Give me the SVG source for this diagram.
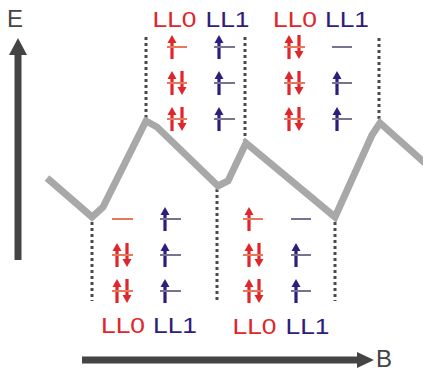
<svg xmlns="http://www.w3.org/2000/svg" xmlns:xlink="http://www.w3.org/1999/xlink" width="423" height="373" viewBox="0 0 423 373">
<style>
.ax{stroke:#444;stroke-width:7;fill:none}
.ah{fill:#444}
.dot{stroke:#4a4a4a;stroke-width:3;stroke-dasharray:3 3;fill:none}
.band{stroke:#a8a8a8;stroke-width:7;fill:none;stroke-linejoin:miter}
.lr{stroke:#e6785c;stroke-width:2}
.ln{stroke:#7a7294;stroke-width:2}
.tr{fill:#e0262a;font-family:"Liberation Sans",Arial,sans-serif;font-size:21.5px;text-anchor:middle}
.tn{fill:#2e1d7c;font-family:"Liberation Sans",Arial,sans-serif;font-size:21.5px;text-anchor:middle}
.axl{fill:#444;font-family:"Liberation Sans",Arial,sans-serif;font-size:24px}
</style>
<defs>
<path id="up" d="M0,-12 L4.5,-4 L1.6,-4 L1.6,12 L-1.6,12 L-1.6,-4 L-4.5,-4 Z"/>
<path id="dn" d="M0,12 L4.5,4 L1.6,4 L1.6,-12 L-1.6,-12 L-1.6,4 L-4.5,4 Z"/>
</defs>
<g id="axes">
<line class="ax" x1="18" y1="260" x2="18" y2="52"/>
<polygon class="ah" points="18,38 27,55 9,55"/>
<text class="axl" x="7" y="27">E</text>
<line class="ax" x1="82" y1="360" x2="359" y2="360"/>
<polygon class="ah" points="374,360 357,352 357,368"/>
<text class="axl" x="376" y="367">B</text>
</g>
<g id="connectors">
<line class="dot" x1="146" y1="37" x2="146" y2="119"/>
<line class="dot" x1="245" y1="37" x2="245" y2="141"/>
<line class="dot" x1="379" y1="38" x2="379" y2="120"/>
<line class="dot" x1="92" y1="222" x2="92" y2="301"/>
<line class="dot" x1="217" y1="189" x2="217" y2="301"/>
<line class="dot" x1="335" y1="222" x2="335" y2="301"/>
<polyline class="band" points="47,178 92,217 103,207 146,121 157,127 218,186 228,181 246,143 335,217 372,135 380,123 426,164"/>
</g>
<g id="top-left">
<text class="tr" x="174.5" y="26.5" textLength="44" lengthAdjust="spacingAndGlyphs">LL0</text>
<text class="tn" x="227.5" y="26.5" textLength="44" lengthAdjust="spacingAndGlyphs">LL1</text>
<use href="#up" x="172" y="47" fill="#e0262a"/>
<use href="#up" x="172" y="83" fill="#e0262a"/><use href="#dn" x="182" y="83" fill="#e0262a"/>
<use href="#up" x="172" y="119" fill="#e0262a"/><use href="#dn" x="182" y="119" fill="#e0262a"/>
<use href="#up" x="219" y="47" fill="#2e1d7c"/>
<use href="#up" x="219" y="83" fill="#2e1d7c"/>
<use href="#up" x="219" y="119" fill="#2e1d7c"/>
<line class="lr" x1="167" y1="47" x2="187" y2="47"/>
<line class="lr" x1="167" y1="83" x2="187" y2="83"/>
<line class="lr" x1="167" y1="119" x2="187" y2="119"/>
<line class="ln" x1="214" y1="47" x2="235" y2="47"/>
<line class="ln" x1="214" y1="83" x2="235" y2="83"/>
<line class="ln" x1="214" y1="119" x2="235" y2="119"/>
</g>
<g id="top-right">
<text class="tr" x="295" y="26.5" textLength="44" lengthAdjust="spacingAndGlyphs">LL0</text>
<text class="tn" x="347" y="26.5" textLength="44" lengthAdjust="spacingAndGlyphs">LL1</text>
<use href="#up" x="289" y="47" fill="#e0262a"/><use href="#dn" x="299" y="47" fill="#e0262a"/>
<use href="#up" x="289" y="83" fill="#e0262a"/><use href="#dn" x="299" y="83" fill="#e0262a"/>
<use href="#up" x="289" y="119" fill="#e0262a"/><use href="#dn" x="299" y="119" fill="#e0262a"/>
<use href="#up" x="337" y="83" fill="#2e1d7c"/>
<use href="#up" x="337" y="119" fill="#2e1d7c"/>
<line class="lr" x1="284" y1="47" x2="305" y2="47"/>
<line class="lr" x1="284" y1="83" x2="305" y2="83"/>
<line class="lr" x1="284" y1="119" x2="305" y2="119"/>
<line class="ln" x1="332" y1="47" x2="352" y2="47"/>
<line class="ln" x1="332" y1="83" x2="352" y2="83"/>
<line class="ln" x1="332" y1="119" x2="352" y2="119"/>
</g>
<g id="bottom-left">
<text class="tr" x="123" y="332.5" textLength="44" lengthAdjust="spacingAndGlyphs">LL0</text>
<text class="tn" x="175" y="332.5" textLength="44" lengthAdjust="spacingAndGlyphs">LL1</text>
<use href="#up" x="117" y="255" fill="#e0262a"/><use href="#dn" x="127" y="255" fill="#e0262a"/>
<use href="#up" x="117" y="291" fill="#e0262a"/><use href="#dn" x="127" y="291" fill="#e0262a"/>
<use href="#up" x="165" y="219" fill="#2e1d7c"/>
<use href="#up" x="165" y="255" fill="#2e1d7c"/>
<use href="#up" x="165" y="291" fill="#2e1d7c"/>
<line class="lr" x1="112" y1="219" x2="133" y2="219"/>
<line class="lr" x1="112" y1="255" x2="133" y2="255"/>
<line class="lr" x1="112" y1="291" x2="133" y2="291"/>
<line class="ln" x1="160" y1="219" x2="181" y2="219"/>
<line class="ln" x1="160" y1="255" x2="181" y2="255"/>
<line class="ln" x1="160" y1="291" x2="181" y2="291"/>
</g>
<g id="bottom-right">
<text class="tr" x="254.5" y="334" textLength="44" lengthAdjust="spacingAndGlyphs">LL0</text>
<text class="tn" x="307.5" y="334" textLength="44" lengthAdjust="spacingAndGlyphs">LL1</text>
<use href="#up" x="249" y="219" fill="#e0262a"/>
<use href="#up" x="249" y="255" fill="#e0262a"/><use href="#dn" x="259" y="255" fill="#e0262a"/>
<use href="#up" x="249" y="291" fill="#e0262a"/><use href="#dn" x="259" y="291" fill="#e0262a"/>
<use href="#up" x="296" y="255" fill="#2e1d7c"/>
<use href="#up" x="296" y="291" fill="#2e1d7c"/>
<line class="lr" x1="243" y1="219" x2="263" y2="219"/>
<line class="lr" x1="243" y1="255" x2="263" y2="255"/>
<line class="lr" x1="243" y1="291" x2="263" y2="291"/>
<line class="ln" x1="291" y1="219" x2="311" y2="219"/>
<line class="ln" x1="291" y1="255" x2="311" y2="255"/>
<line class="ln" x1="291" y1="291" x2="311" y2="291"/>
</g>
</svg>
